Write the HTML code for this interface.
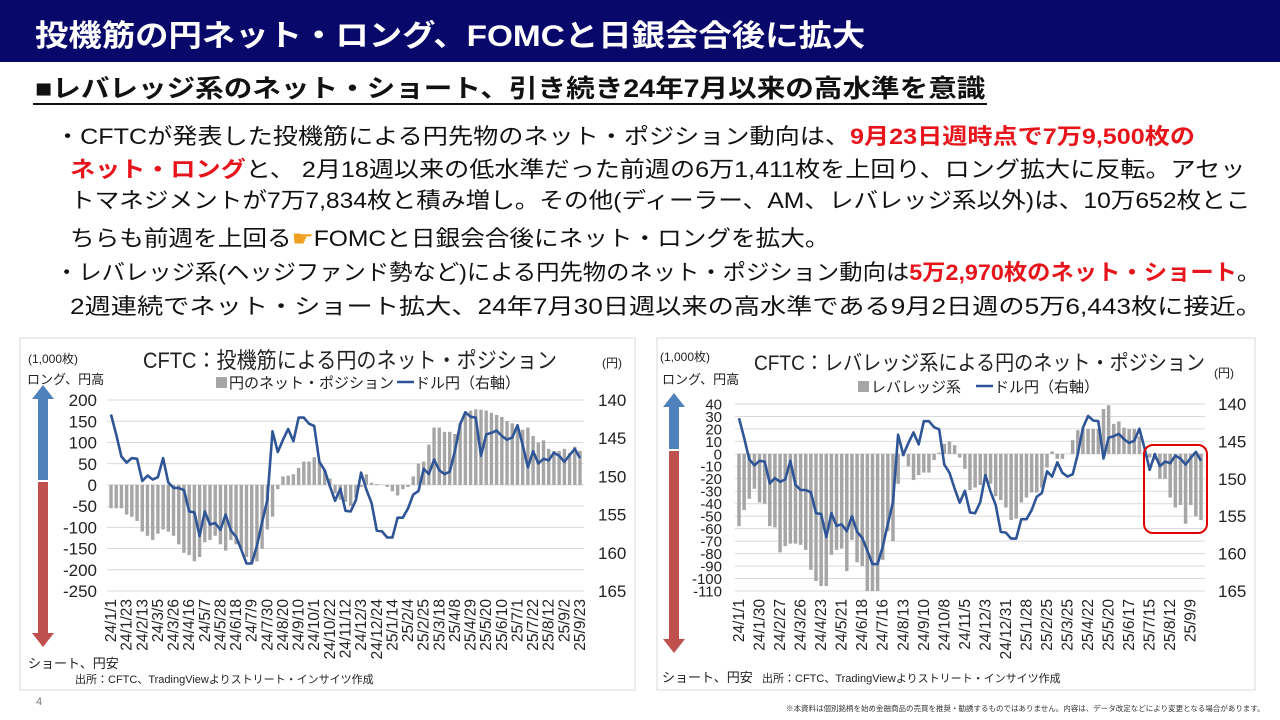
<!DOCTYPE html>
<html lang="ja"><head><meta charset="utf-8">
<style>
*{margin:0;padding:0;box-sizing:border-box}
body{width:1280px;height:720px;background:#fff;position:relative;overflow:hidden;font-family:"Liberation Sans","Noto Sans CJK JP",sans-serif;color:#111}
.abs{position:absolute;white-space:nowrap;transform-origin:0 50%}
#hdr{position:absolute;left:0;top:0;width:1280px;height:62px;background:#08086b}
.red{color:#e8141c;font-weight:bold}
.ln{font-size:22px;line-height:30px}
svg text{font-family:"Liberation Sans","Noto Sans CJK JP",sans-serif}
</style></head><body>
<div id="hdr"></div>
<div class="abs fit" data-w="830" style="left:35px;top:17px;font-size:30px;font-weight:bold;color:#fff;line-height:40px">投機筋の円ネット・ロング、FOMCと日銀会合後に拡大</div>
<div class="abs fit" data-w="950" style="left:35px;top:72px;font-size:25px;font-weight:bold;line-height:34px">■レバレッジ系のネット・ショート、引き続き24年7月以来の高水準を意識</div>
<div style="position:absolute;left:33px;top:103px;width:954px;height:2px;background:#111"></div>

<div class="abs ln fit" data-w="1140" style="left:55px;top:122px">・CFTCが発表した投機筋による円先物のネット・ポジション動向は、<span class="red">9月23日週時点で7万9,500枚の</span></div>
<div class="abs ln fit" data-w="1175" style="left:70px;top:155px"><span class="red">ネット・ロング</span>と、 2月18週以来の低水準だった前週の6万1,411枚を上回り、ロング拡大に反転。アセッ</div>
<div class="abs ln fit" data-w="1180" style="left:70px;top:186px">トマネジメントが7万7,834枚と積み増し。その他(ディーラー、AM、レバレッジ系以外)は、10万652枚とこ</div>
<div class="abs ln fit" data-w="760" style="left:70px;top:224px">ちらも前週を上回る<span style="color:#f0a020">☛</span>FOMCと日銀会合後にネット・ロングを拡大。</div>
<div class="abs ln fit" data-w="1205" style="left:55px;top:258px">・レバレッジ系(ヘッジファンド勢など)による円先物のネット・ポジション動向は<span class="red">5万2,970枚のネット・ショート</span>。</div>
<div class="abs ln fit" data-w="1192" style="left:70px;top:292px">2週連続でネット・ショート拡大、24年7月30日週以来の高水準である9月2日週の5万6,443枚に接近。</div>

<svg id="ch" width="1280" height="720" style="position:absolute;left:0;top:0">
<rect x="20" y="338" width="615" height="352" fill="none" stroke="#d9d9d9"/>
<rect x="657" y="338" width="598" height="352" fill="none" stroke="#d9d9d9"/>
<g id="gL"></g><g id="gR"></g>
</svg>
<div class="abs" style="left:36px;top:696px;font-size:11px;color:#777">4</div>
<div class="abs" style="left:786px;top:703px;font-size:7.5px;color:#333">※本資料は個別銘柄を始め金融商品の売買を推奨・勧誘するものではありません。内容は、データ改定などにより変更となる場合があります。</div>

<script>
const specNet=[-55,-55,-55,-70,-75,-85,-110,-120,-130,-115,-105,-110,-120,-140,-160,-165,-180,-170,-135,-130,-120,-140,-155,-130,-140,-150,-170,-185,-180,-150,-105,-75,-10,20,22,25,40,55,55,65,55,35,15,-20,-35,-40,-50,-30,-5,25,5,2,0,-5,-15,-25,-10,-5,20,50,55,95,135,135,125,125,120,145,170,175,178,177,175,170,165,160,150,145,130,130,135,115,100,105,85,80,80,85,75,90,80];
const levNet=[-58,-45,-36,-28,-39,-40,-58,-59,-79,-74,-72,-72,-73,-77,-93,-102,-106,-106,-81,-77,-76,-94,-69,-87,-90,-110,-110,-110,-85,-62,-70,-24,-2,-10,-21,-17,-15,-15,-5,1,8,10,7,-3,-12,-29,-27,-25,-20,-24,-34,-37,-43,-53,-52,-39,-35,-31,-31,-27,-11,2,-4,-4,0,11,19,20,20,20,20,36,39,24,26,21,20,20,14,2,-3,-5,-20,-20,-35,-43,-41,-56,-41,-50,-53];
const usdjpy=[141.9,144.5,147.4,148.2,147.6,147.7,150.6,149.9,150.4,150.1,147.6,150.8,151.5,151.5,151.8,154.6,154.7,157.8,154.6,156.3,156.1,157,155,157.1,157.9,159.6,161.4,161.4,159.1,156,153.1,144.1,146.8,145.2,143.8,145.4,142.3,142.3,143.1,143.4,148.1,149.2,151.3,153.2,151.6,154.5,154.6,153.1,149.5,151.7,153.5,157.1,157.2,158,158,155.4,155.4,154.2,152.4,151.9,149,149.7,147.8,149.2,149.7,149.4,146.7,143.2,141.6,142.2,142.3,147.3,144.5,144.3,144,144.7,145.2,144.9,143.3,145.9,148.8,146.7,148.3,147.7,147.9,146.9,147.3,148.1,147.2,146.4,147.6];
const leftTickLabels=["24/1/1","24/1/23","24/2/13","24/3/5","24/3/26","24/4/16","24/5/7","24/5/28","24/6/18","24/7/9","24/7/30","24/8/20","24/9/10","24/10/1","24/10/22","24/11/12","24/12/3","24/12/24","25/1/14","25/2/4","25/2/25","25/3/18","25/4/8","25/4/29","25/5/20","25/6/10","25/7/1","25/7/22","25/8/12","25/9/2","25/9/23"];
const rightTickLabels=["24/1/1","24/1/30","24/2/27","24/3/26","24/4/23","24/5/21","24/6/18","24/7/16","24/8/13","24/9/10","24/10/8","24/11/5","24/12/3","24/12/31","25/1/28","25/2/25","25/3/25","25/4/22","25/5/20","25/6/17","25/7/15","25/8/12","25/9/9"];
const leftYTicks=[200,150,100,50,0,-50,-100,-150,-200,-250];
const rightYTicks=[40,30,20,10,0,-10,-20,-30,-40,-50,-60,-70,-80,-90,-100,-110];
const yenTicks=[140,145,150,155,160,165];

const NS="http://www.w3.org/2000/svg";
function mk(p,t,a,txt){const e=document.createElementNS(NS,t);for(const k in a)e.setAttribute(k,a[k]);if(txt!==undefined)e.textContent=txt;p.appendChild(e);return e;}

function drawChart(g,o){
  const n=o.bars.length;
  const x=i=>o.x0+i*(o.x1-o.x0)/(n-1);
  const y=v=>o.yTop+(o.vMax-v)*(o.yBot-o.yTop)/(o.vMax-o.vMin);
  const yy=v=>o.yTop+(v-140)*(o.yBot-o.yTop)/25;
  o.yTicks.forEach(t=>{
    const l=mk(g,'line',{x1:o.x0-4,x2:o.x1+4,y1:y(t),y2:y(t),stroke:'#d9d9d9','stroke-width':1});
    
    
    const tx=mk(g,'text',{x:o.lx,y:y(t)+o.fs*0.36,'text-anchor':'end','font-size':o.fs,fill:'#222'},String(t));
    
    
  });
  yenTicks.forEach(t=>{
    const tx=mk(g,'text',{x:o.rx,y:yy(t)+6,'text-anchor':'start','font-size':17,fill:'#222'},String(t));
    
    
  });
  o.bars.forEach((v,i)=>{
    const r=mk(g,'rect',{x:x(i)-o.bw/2,y:Math.min(y(v),y(0)),width:o.bw,height:Math.abs(y(v)-y(0)),fill:'#a6a6a6'});
    
    
  });
  const pts=usdjpy.map((v,i)=>x(i).toFixed(1)+','+yy(v).toFixed(1)).join(' ');
  const pl=mk(g,'polyline',{points:pts,fill:'none',stroke:'#2f5597','stroke-width':2.6,'stroke-linejoin':'round'});
  
  
  o.ticks.forEach((lab,k)=>{
    const xi=x(k*o.step)+5;
    const tx=mk(g,'text',{x:xi,y:o.ly,'text-anchor':'end','font-size':15.5,fill:'#222',transform:`rotate(-90 ${xi} ${o.ly})`},lab);
    
    
  });
}
drawChart(document.getElementById('gL'),{bars:specNet,x0:111,x1:580,yTop:400,yBot:591,vMax:200,vMin:-250,yTicks:leftYTicks,lx:97,rx:598,fs:17,bw:3.4,ticks:leftTickLabels,step:3,ly:599});
drawChart(document.getElementById('gR'),{bars:levNet,x0:739,x1:1201,yTop:404,yBot:591,vMax:40,vMin:-110,yTicks:rightYTicks,lx:722,rx:1218,fs:15,bw:3.5,ticks:rightTickLabels,step:4,ly:599});

const svg=document.getElementById('ch');
function arrow(x,top,mid,bot,name){
  const g=mk(svg,'g',{});
  
  
  mk(g,'polygon',{points:`${x},${top} ${x+11},${top+14} ${x+5},${top+14} ${x+5},${mid} ${x-5},${mid} ${x-5},${top+14} ${x-11},${top+14}`,fill:'#4f81bd'});
  mk(g,'polygon',{points:`${x-5},${mid+2} ${x+5},${mid+2} ${x+5},${bot-14} ${x+11},${bot-14} ${x},${bot} ${x-11},${bot-14} ${x-5},${bot-14}`,fill:'#c0504d'});
}
arrow(43,385,480,647,'left-direction-arrow');
arrow(674,393,449,653,'right-direction-arrow');
function txt(x,y,s,fs,anchor,name,len){const t=mk(svg,'text',{x:x,y:y,'font-size':fs,'text-anchor':anchor||'start',fill:'#222'},s);
  if(len){t.setAttribute('textLength',len);t.setAttribute('lengthAdjust','spacingAndGlyphs');}
  
  return t;}
txt(28,363,'(1,000枚)',12,'start','left-unit-label');
txt(27,384,'ロング、円高',13,'start','left-long-label');
txt(28,668,'ショート、円安',13,'start','left-short-label');
txt(602,367,'(円)',12,'start','left-yen-unit');
txt(143,368,'CFTC：投機筋による円のネット・ポジション',22,'start','left-chart-title',414);
txt(660,361,'(1,000枚)',12,'start','right-unit-label');
txt(662,384,'ロング、円高',13,'start','right-long-label');
txt(662,682,'ショート、円安',13,'start','right-short-label');
txt(1214,377,'(円)',12,'start','right-yen-unit');
txt(754,370,'CFTC：レバレッジ系による円のネット・ポジション',21,'start','right-chart-title',451);
txt(75,683,'出所：CFTC、TradingViewよりストリート・インサイツ作成',11,'start','left-source');
txt(762,682,'出所：CFTC、TradingViewよりストリート・インサイツ作成',11,'start','right-source');
let lg=mk(svg,'g',{});
mk(lg,'rect',{x:216,y:377,width:11,height:11,fill:'#a6a6a6'});
mk(lg,'text',{x:229,y:388,'font-size':15,fill:'#222'},'円のネット・ポジション');
mk(lg,'line',{x1:397,x2:414,y1:382,y2:382,stroke:'#2f5597','stroke-width':2.6});
mk(lg,'text',{x:415,y:388,'font-size':15,fill:'#222'},'ドル円（右軸）');
lg=mk(svg,'g',{});
mk(lg,'rect',{x:858,y:381,width:11,height:11,fill:'#a6a6a6'});
mk(lg,'text',{x:871,y:392,'font-size':15,fill:'#222'},'レバレッジ系');
mk(lg,'line',{x1:976,x2:993,y1:386,y2:386,stroke:'#2f5597','stroke-width':2.6});
mk(lg,'text',{x:994,y:392,'font-size':15,fill:'#222'},'ドル円（右軸）');
const hl=mk(svg,'rect',{x:1144,y:445,width:63,height:88,rx:9,fill:'none',stroke:'#e00000','stroke-width':2});



document.querySelectorAll('.fit').forEach(el=>{
  const w=el.scrollWidth,t=+el.getAttribute('data-w');
  if(w>0)el.style.transform=`scaleX(${t/w})`;
});
</script>
</body></html>
